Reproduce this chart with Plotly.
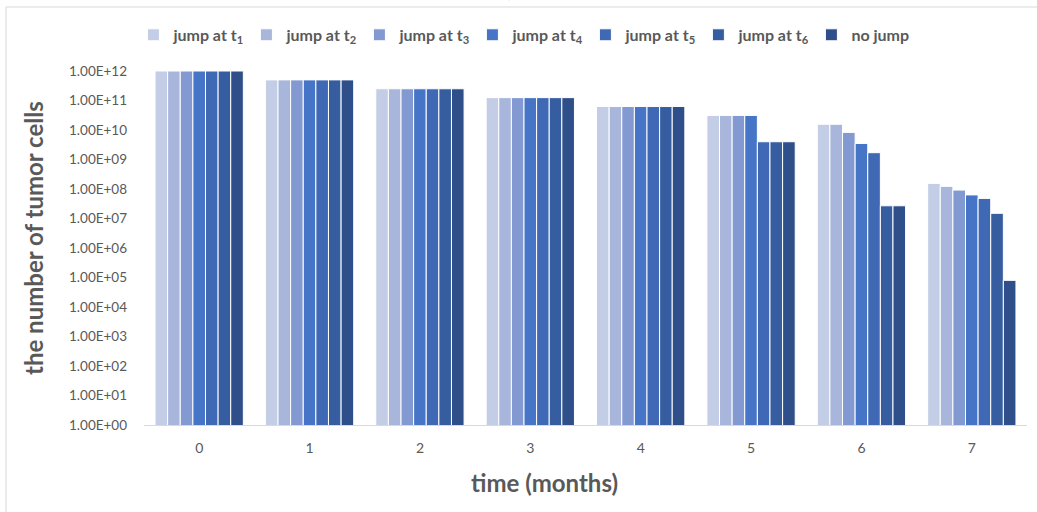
import plotly.graph_objects as go

months = [0, 1, 2, 3, 4, 5, 6, 7]
series_names = ["jump at t<sub>1</sub>", "jump at t<sub>2</sub>", "jump at t<sub>3</sub>",
                "jump at t<sub>4</sub>", "jump at t<sub>5</sub>", "jump at t<sub>6</sub>", "no jump"]
jump_t1 = [1e12, 5e11, 2.5e11, 1.25e11, 6.25e10, 3.125e10, 1.5625e10, 1.55e8]
jump_t2 = [1e12, 5e11, 2.5e11, 1.25e11, 6.25e10, 3.125e10, 1.5625e10, 1.23e8]
jump_t3 = [1e12, 5e11, 2.5e11, 1.25e11, 6.25e10, 3.125e10, 8.3e9, 9.2e7]
jump_t4 = [1e12, 5e11, 2.5e11, 1.25e11, 6.25e10, 3.125e10, 3.5e9, 6.3e7]
jump_t5 = [1e12, 5e11, 2.5e11, 1.25e11, 6.25e10, 4.0e9, 1.7e9, 4.8e7]
jump_t6 = [1e12, 5e11, 2.5e11, 1.25e11, 6.25e10, 4.0e9, 2.7e7, 1.5e7]
no_jump = [1e12, 5e11, 2.5e11, 1.25e11, 6.25e10, 4.0e9, 2.7e7, 8.0e4]
all_series = [jump_t1, jump_t2, jump_t3, jump_t4, jump_t5, jump_t6, no_jump]
colors = ["#C3CDE6", "#A8B6DC", "#8399D2", "#4674C6", "#3F69B5", "#365D9F", "#2F4F8A"]

y_tickvals = [10 ** k for k in range(13)]
y_ticktext = ["1.00E+%02d" % k for k in range(13)]

fig = go.Figure()
for name, vals, col in zip(series_names, all_series, colors):
    fig.add_trace(go.Bar(x=months, y=vals, name=name, marker_color=col,
                         marker_line_color="white", marker_line_width=1))

fnt = "Lato, 'Open Sans', sans-serif"
fig.update_layout(
    width=1037, height=512,
    margin=dict(l=144, r=10, t=71, b=87),
    paper_bgcolor="white", plot_bgcolor="white",
    barmode="group", bargap=0.2, bargroupgap=0,
    font=dict(family=fnt, color="#595959"),
    legend=dict(orientation="h", x=-0.012, y=1.102, xanchor="left", yanchor="middle",
                font=dict(size=16, color="#595959", family=fnt, weight="bold"),
                entrywidth=68, entrywidthmode="pixels", traceorder="normal",
                itemwidth=30),
    xaxis=dict(tickmode="array", tickvals=months, ticktext=[str(m) for m in months],
               range=[-0.5, 7.5], showgrid=False, zeroline=False,
               showline=True, linecolor="#D9D9D9", linewidth=1,
               tickfont=dict(size=14, color="#595959"), ticks="", ticklabelstandoff=10),
    yaxis=dict(type="log", range=[0, 12], tickmode="array", tickvals=y_tickvals, ticktext=y_ticktext,
               showgrid=False, zeroline=False, showline=False, ticks="",
               tickfont=dict(size=13.5, color="#595959"), ticklabelstandoff=16),
)
# axis titles
fig.add_annotation(text="<b>the number of tumor cells</b>", xref="paper", yref="paper",
                   x=(33 - 144) / 883, y=(425 - 238) / 354, textangle=-90, showarrow=False,
                   xanchor="center", yanchor="middle", font=dict(size=24, color="#595959"))
fig.add_annotation(text="<b>time (months)</b>", xref="paper", yref="paper",
                   x=(544 - 144) / 883, y=(425 - 482) / 354, showarrow=False,
                   xanchor="center", yanchor="middle", font=dict(size=24, color="#595959"))
# chart border (Excel chart area frame)
fig.add_shape(type="line", xref="paper", yref="paper", x0=-0.1563, x1=1.02, y0=1.1808, y1=1.1808,
              line=dict(color="#D9D9D9", width=1))
fig.add_shape(type="line", xref="paper", yref="paper", x0=-0.1563, x1=-0.1563, y0=1.1808, y1=-0.26,
              line=dict(color="#D9D9D9", width=1))
fig.add_annotation(text="(b)", xref="paper", yref="paper", x=0.42, y=1.192, xanchor="center",
                   yanchor="bottom", showarrow=False, font=dict(size=16, color="#333333"))
fig.write_html("out.html")
